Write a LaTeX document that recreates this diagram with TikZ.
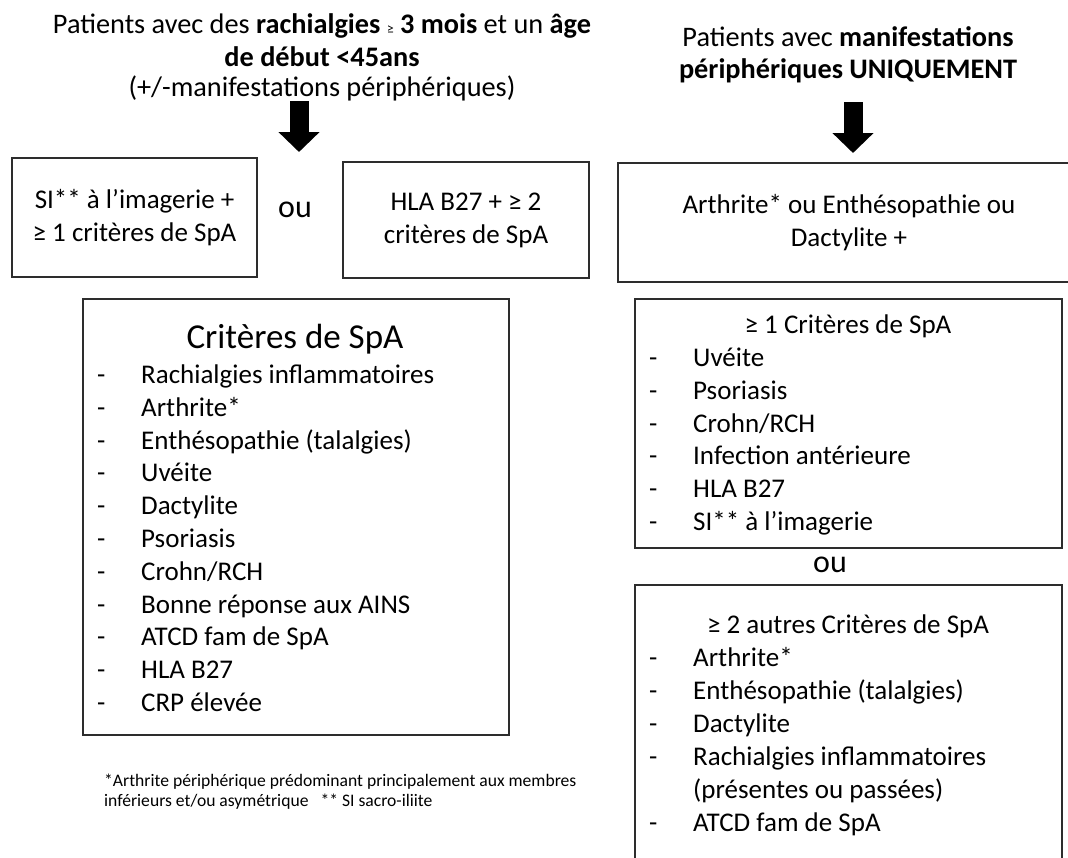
\documentclass[tikz,border=0pt]{standalone}
\usepackage{fontspec}
\setmainfont{Carlito}
\usetikzlibrary{arrows.meta}
\newcommand\fsbody{\fontsize{27pt}{33pt}\selectfont}
\newcommand\fstitle{\fontsize{28.3pt}{32pt}\selectfont}
\newcommand\fsbig{\fontsize{35pt}{40pt}\selectfont}
\newcommand\fsou{\fontsize{32pt}{36pt}\selectfont}
\newcommand\fsnote{\fontsize{17.6pt}{20pt}\selectfont}
\newcommand\dashitem{\makebox[44pt][l]{-}}
\definecolor{edge}{RGB}{45,45,45}
\begin{document}
\begin{tikzpicture}[x=1pt,y=-1pt,
  box/.style={draw=edge, line width=1.8pt, inner sep=0pt, align=center, font=\fsbody},
  item/.style={anchor=base west, inner sep=0pt, font=\fsbody},
  ttl/.style={anchor=base, inner sep=0pt, font=\fstitle},
  heading/.style={anchor=base, inner sep=0pt},
  ortext/.style={inner sep=0pt, font=\fsou},
  note/.style={anchor=base west, inner sep=0pt, font=\fsnote},
  bigarrow/.style={line width=19pt, -{Triangle[width=40pt,length=20pt]}}]
\path[use as bounding box] (0,0) rectangle (1068,857);
\clip (0,0) rectangle (1068,857);

% left title
\node[ttl] (t1a) at (322,33) {Patients avec des \textbf{rachialgies} {\fontsize{14pt}{14pt}\selectfont ≥} \textbf{3 mois} et un \textbf{âge}};
\node[ttl] (t1b) at (322,66) {\textbf{de début <45ans}};
\node[ttl] (t1c) at (322,96) {(+/-manifestations périphériques)};

% right title
\node[ttl] (t2a) at (848,46) {Patients avec \textbf{manifestations}};
\node[ttl] (t2b) at (848,78) {\textbf{périphériques UNIQUEMENT}};

% arrows
\coordinate (a1s) at (299,101);
\coordinate (a1e) at (299,152);
\coordinate (a2s) at (853,102);
\coordinate (a2e) at (853,153);
\draw[bigarrow] (a1s) -- (a1e);
\draw[bigarrow] (a2s) -- (a2e);

% top boxes
\node[box, minimum width=245pt, minimum height=119pt] (si) at (134.5,217.5) {SI** à l’imagerie +\\≥ 1 critères de SpA};
\node[ortext] (ou1) at (295,210) {ou};
\node[box, minimum width=246pt, minimum height=116pt] (hla) at (466,220) {HLA B27 + ≥ 2\\critères de SpA};
\node[box, minimum width=462pt, minimum height=119pt] (art) at (849,222.5) {Arthrite* ou Enthésopathie ou\\Dactylite +};

% left criteria box
\node[box, minimum width=426pt, minimum height=436pt] (crit) at (296,517) {};
\node[heading, font=\fsbig] (critt) at (295,348) {Critères de SpA};
\foreach \t [count=\i from 0] in {{Rachialgies inflammatoires},{Arthrite*},{Enthésopathie (talalgies)},{Uvéite},{Dactylite},{Psoriasis},{Crohn/RCH},{Bonne réponse aux AINS},{ATCD fam de SpA},{HLA B27},{CRP élevée}}
  \node[item] (L\i) at (97,383.5+32.8*\i) {\dashitem\t};

% right criteria box 1
\node[box, minimum width=427pt, minimum height=249pt] (c1) at (848.5,423.5) {};
\node[heading, font=\fsbody] (c1t) at (848,333.5) {≥ 1 Critères de SpA};
\foreach \t [count=\i from 0] in {{Uvéite},{Psoriasis},{Crohn/RCH},{Infection antérieure},{HLA B27},{SI** à l’imagerie}}
  \node[item] (R\i) at (649,366.5+32.8*\i) {\dashitem\t};

\node[ortext] (ou2) at (830,565) {ou};

% right criteria box 2
\node[box, minimum width=427pt, minimum height=295pt] (c2) at (848.5,732.5) {};
\node[heading, font=\fsbody] (c2t) at (848,633.5) {≥ 2 autres Critères de SpA};
\foreach \t [count=\i from 0] in {{\dashitem Arthrite*},{\dashitem Enthésopathie (talalgies)},{\dashitem Dactylite},{\dashitem Rachialgies inflammatoires},{\hspace*{44pt}(présentes ou passées)},{\dashitem ATCD fam de SpA}}
  \node[item] (S\i) at (649,666.5+32.9*\i) {\t};

% footnote
\node[note] (n1) at (104,786) {*Arthrite périphérique prédominant principalement aux membres};
\node[note] (n2) at (104,806) {inférieurs et/ou asymétrique\hspace{12pt}** SI sacro-iliite};
\end{tikzpicture}
\end{document}
